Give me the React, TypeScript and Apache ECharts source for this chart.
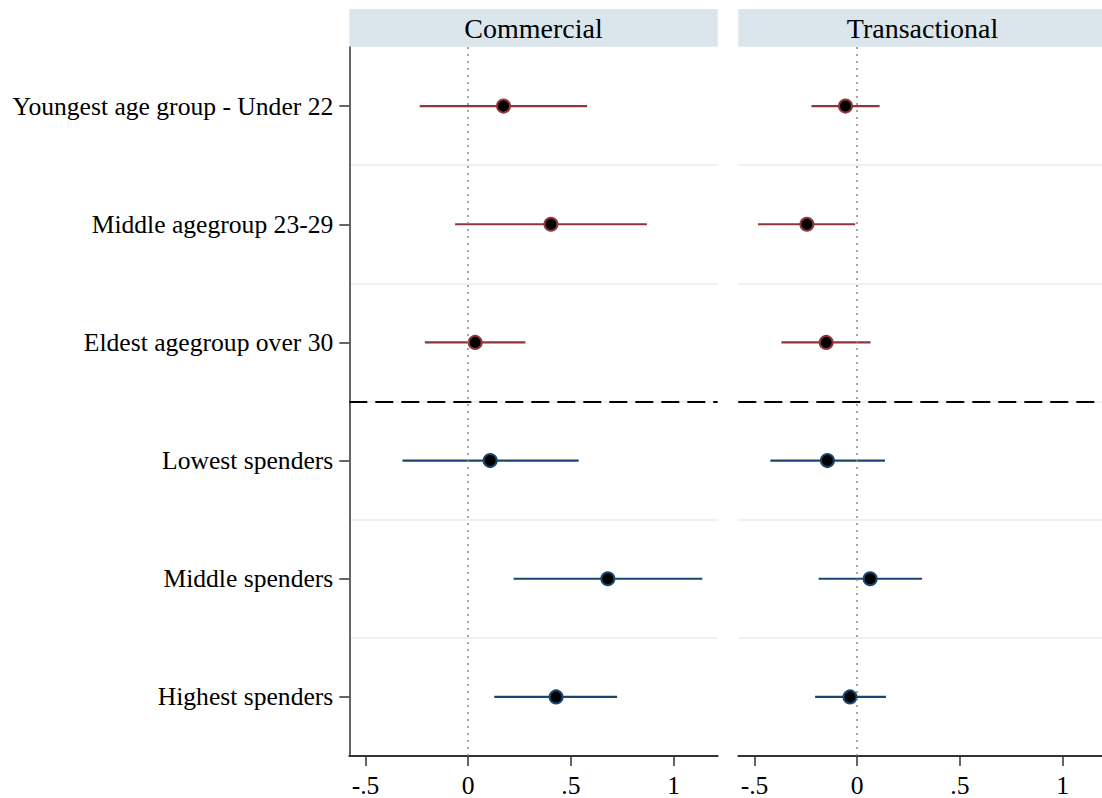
import React, { useEffect, useRef } from "react";
import * as echarts from "echarts";

const categories = [
  "Youngest age group - Under 22",
  "Middle agegroup 23-29",
  "Eldest agegroup over 30",
  "Lowest spenders",
  "Middle spenders",
  "Highest spenders",
];
const groups = ["age", "age", "age", "spend", "spend", "spend"];
const panelTitles = ["Commercial", "Transactional"];

const commercialEst = [0.172, 0.403, 0.034, 0.107, 0.68, 0.428];
const commercialLo = [-0.236, -0.064, -0.211, -0.32, 0.221, 0.127];
const commercialHi = [0.579, 0.87, 0.278, 0.538, 1.14, 0.725];

const transEst = [-0.057, -0.245, -0.151, -0.145, 0.063, -0.035];
const transLo = [-0.223, -0.483, -0.369, -0.423, -0.188, -0.205];
const transHi = [0.109, -0.01, 0.065, 0.135, 0.316, 0.14];

const xTickValues = [-0.5, 0, 0.5, 1];
const xTickLabels = ["-.5", "0", ".5", "1"];
const xMin = -0.579;
const xMax = 1.215;
const separatorAt = 3; // boundary between age and spending groups

const groupColors: Record<string, string> = { age: "#90353b", spend: "#1a476f" };
const FONT = "'Liberation Serif', 'Times New Roman', serif";

const panels = [
  { est: commercialEst, lo: commercialLo, hi: commercialHi },
  { est: transEst, lo: transLo, hi: transHi },
];

export default function App() {
  const ref = useRef<HTMLDivElement>(null);
  useEffect(() => {
    if (!ref.current) return;
    const chart = echarts.init(ref.current, null, { renderer: "svg" });
    const gridLefts = [349.3, 738.3];
    const gridWidth = 368.4;
    const gridTop = 47;
    const gridHeight = 710;

    const grids = gridLefts.map((l) => ({ left: l, top: gridTop, width: gridWidth, height: gridHeight }));

    const xAxes = gridLefts.map((_, i) => ({
      type: "value",
      gridIndex: i,
      position: "bottom",
      min: xMin,
      max: xMax,
      axisLine: { show: true, onZero: false, lineStyle: { color: "#333", width: 2 } },
      axisTick: { show: true, length: 10, customValues: xTickValues, lineStyle: { color: "#333", width: 1.5 } },
      axisLabel: {
        show: true,
        customValues: xTickValues,
        formatter: (v: number) => {
          const idx = xTickValues.findIndex((t) => Math.abs(t - v) < 1e-9);
          return idx >= 0 ? xTickLabels[idx] : "";
        },
        fontFamily: FONT,
        fontSize: 25.6,
        color: "#000",
        margin: 16,
      },
      splitLine: { show: false },
    }));

    const yAxes: any[] = [];
    gridLefts.forEach((_, i) => {
      yAxes.push({
        type: "value",
        gridIndex: i,
        min: 0,
        max: categories.length,
        interval: 1,
        inverse: true,
        axisLine: { show: false, onZero: false },
        axisTick: { show: false },
        axisLabel: { show: false },
        splitLine: { show: true, showMinLine: false, showMaxLine: false, lineStyle: { color: "#eaf2f3", width: 2 } },
      });
    });
    yAxes.push({
      type: "category",
      gridIndex: 0,
      data: categories,
      inverse: true,
      boundaryGap: true,
      position: "left",
      axisLine: { show: true, onZero: false, lineStyle: { color: "#333", width: 1.5 } },
      axisTick: { show: true, alignWithLabel: true, length: 10, lineStyle: { color: "#333", width: 1.5 } },
      axisLabel: { fontFamily: FONT, fontSize: 25.6, color: "#000", margin: 16 },
      splitLine: { show: false },
    });

    const series: any[] = [];
    panels.forEach((p, i) => {
      const ciData = categories.map((_, k) => [p.lo[k], p.hi[k], k + 0.5, k]);
      series.push({
        type: "custom",
        xAxisIndex: i,
        yAxisIndex: i,
        silent: true,
        renderItem: (params: any, api: any) => {
          const k = api.value(3);
          const a = api.coord([api.value(0), api.value(2)]);
          const b = api.coord([api.value(1), api.value(2)]);
          return {
            type: "line",
            shape: { x1: a[0], y1: a[1], x2: b[0], y2: b[1] },
            style: { stroke: groupColors[groups[k]], lineWidth: 2.2 },
          };
        },
        encode: { x: [0, 1], y: 2 },
        data: ciData,
        z: 3,
      });
      series.push({
        type: "scatter",
        xAxisIndex: i,
        yAxisIndex: i,
        symbol: "circle",
        symbolSize: 13,
        data: categories.map((_, k) => ({
          value: [p.est[k], k + 0.5],
          itemStyle: { color: "#000", opacity: 1, borderColor: groupColors[groups[k]], borderWidth: 2 },
        })),
        itemStyle: { opacity: 1 },
        z: 4,
        markLine: {
          silent: true,
          symbol: "none",
          label: { show: false },
          data: [
            { xAxis: 0, lineStyle: { color: "#888", type: [2, 5], width: 1.5 } },
            { yAxis: separatorAt, lineStyle: { color: "#000", type: [18, 8], width: 2.2 } },
          ],
        },
      });
    });

    const graphic: any[] = [];
    gridLefts.forEach((l, i) => {
      graphic.push({
        type: "rect",
        shape: { x: l, y: 9, width: gridWidth, height: 37.7 },
        style: { fill: "#dae6ec" },
        silent: true,
      });
      graphic.push({
        type: "text",
        x: l + gridWidth / 2,
        y: 28,
        style: {
          text: panelTitles[i],
          fontFamily: FONT,
          fontSize: 28,
          fill: "#000",
          align: "center",
          verticalAlign: "middle",
        },
        silent: true,
      });
    });

    chart.setOption({
      animation: false,
      backgroundColor: "#fff",
      grid: grids,
      xAxis: xAxes,
      yAxis: yAxes,
      series,
      graphic,
    });
    return () => chart.dispose();
  }, []);

  return (
    <div style={{ position: "absolute", left: 0, top: 0, width: 1102, height: 798, overflow: "hidden", background: "#fff" }}>
      <div ref={ref} style={{ width: 1110, height: 798 }} />
    </div>
  );
}
